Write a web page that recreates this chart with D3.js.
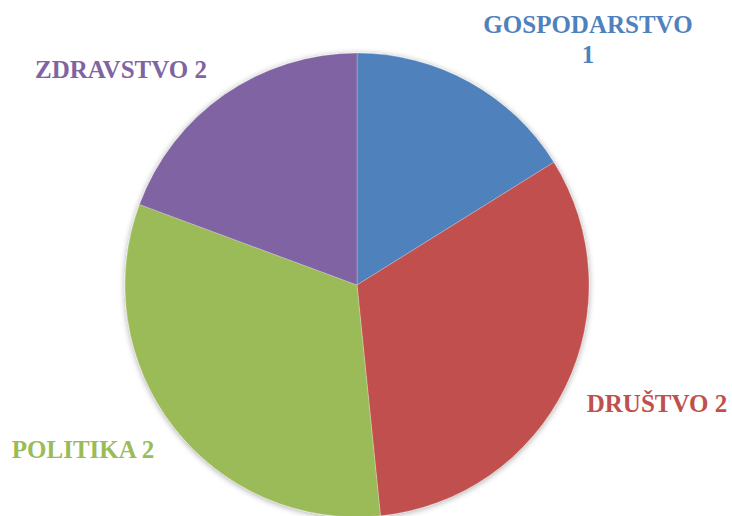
<!DOCTYPE html>
<html>
<head>
<meta charset="utf-8">
<script src="https://cdn.jsdelivr.net/npm/d3@7"></script>
<style>
  body { margin: 0; background: #fff; }
  svg { display: block; }
  .lbl { font-family: "Liberation Serif", "DejaVu Serif", serif; font-weight: bold; font-size: 25px; }
</style>
</head>
<body>
<div id="chart"></div>
<script>
// chart data
const categories = ['GOSPODARSTVO', 'DRUŠTVO', 'POLITIKA', 'ZDRAVSTVO'];
const shares = [5, 10, 10, 6];          // slice sizes
const labelValues = [1, 2, 2, 2];       // numbers printed in the labels
const colors = ['#4F81BD', '#C0504D', '#9BBB59', '#8064A2'];

const width = 732;
const height = 516;
const cx = 357, cy = 285, radius = 232;

const data = categories.map((c, i) => ({ name: c, share: shares[i], label: labelValues[i], color: colors[i] }));

const svg = d3.select('#chart')
  .append('svg')
  .attr('width', width)
  .attr('height', height);

// soft shadow round the pie
const defs = svg.append('defs');
const filter = defs.append('filter')
  .attr('id', 'shadow')
  .attr('x', '-10%').attr('y', '-10%')
  .attr('width', '120%').attr('height', '120%');
filter.append('feGaussianBlur').attr('in', 'SourceAlpha').attr('stdDeviation', 3).attr('result', 'blur');
filter.append('feOffset').attr('in', 'blur').attr('dx', 0).attr('dy', 1).attr('result', 'off');
filter.append('feComponentTransfer').attr('in', 'off').attr('result', 'soft')
  .append('feFuncA').attr('type', 'linear').attr('slope', 0.35);
const merge = filter.append('feMerge');
merge.append('feMergeNode').attr('in', 'soft');
merge.append('feMergeNode').attr('in', 'SourceGraphic');

const pie = d3.pie()
  .value(d => d.share)
  .sort(null);

const arc = d3.arc()
  .innerRadius(0)
  .outerRadius(radius);

const g = svg.append('g')
  .attr('transform', `translate(${cx},${cy})`)
  .attr('filter', 'url(#shadow)');

g.selectAll('path')
  .data(pie(data))
  .enter().append('path')
  .attr('d', arc)
  .attr('fill', d => d.data.color)
  .attr('stroke', 'rgba(255,255,255,0.35)')
  .attr('stroke-width', 0.7);

// labels (positions placed by hand as in the original)
const labelPos = {
  'GOSPODARSTVO': { x: 588, y: 33, twoLines: true },
  'DRUŠTVO': { x: 657, y: 412 },
  'POLITIKA': { x: 83, y: 458 },
  'ZDRAVSTVO': { x: 121, y: 78 }
};

data.forEach(d => {
  const p = labelPos[d.name];
  const t = svg.append('text')
    .attr('class', 'lbl')
    .attr('fill', d.color)
    .attr('text-anchor', 'middle')
    .attr('x', p.x)
    .attr('y', p.y);
  if (p.twoLines) {
    t.append('tspan').attr('x', p.x).text(d.name);
    t.append('tspan').attr('x', p.x).attr('dy', 30).text(d.label);
  } else {
    t.text(`${d.name} ${d.label}`);
  }
});
</script>
</body>
</html>
